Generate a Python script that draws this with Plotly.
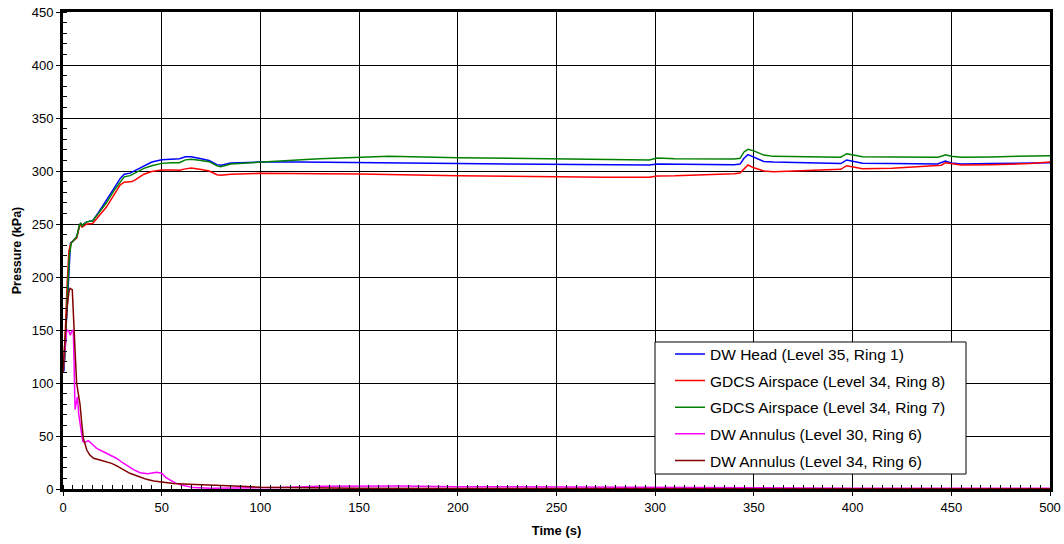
import plotly.graph_objects as go

# ---------------- data ----------------
t_blue = [0, 0.5, 1.5, 2.7, 3.8, 5, 7, 8.3, 9, 9.7, 10.5, 12, 15, 18, 22, 26, 29, 31, 34, 37, 41, 45, 50, 55, 59, 62, 65, 70, 74, 78, 80, 85, 90, 100, 120, 150, 175, 200, 225, 250, 275, 297, 301, 310, 340, 343, 345, 347, 350, 355, 360, 380, 394, 397, 400, 405, 420, 443, 445, 447, 450, 455, 470, 490, 500]
p_blue = [110, 112, 150, 200, 232, 234, 238, 248, 251, 248, 250, 252, 253, 261, 272, 284, 293, 297, 298, 301, 305, 308.5, 310.5, 311, 311.5, 313.5, 313.5, 311.5, 310, 306, 305.5, 307.5, 308, 308.5, 308.5, 308.2, 307.5, 307, 306.5, 306, 305.8, 305.7, 306.6, 306.3, 306, 306.5, 312, 315.4, 313, 309, 308.5, 307.5, 307, 310.4, 309.5, 307.3, 307, 306.6, 308, 309.4, 307.5, 306.6, 307, 307.5, 307.8]

t_red = [0, 1, 2, 3, 4, 5, 7, 8.3, 9, 9.7, 10.5, 12, 15, 18, 22, 26, 29, 31, 35, 37, 41, 45, 50, 55, 59, 62, 65, 70, 74, 78, 80, 85, 90, 100, 130, 150, 200, 250, 275, 297, 301, 310, 320, 340, 343, 345, 347, 350, 355, 360, 380, 394, 397, 400, 405, 420, 443, 445, 447, 450, 455, 470, 490, 500]
p_red = [110, 140, 190, 225, 232, 234, 237, 248, 249, 247, 248, 250, 250.5, 257, 266, 278, 287, 289.5, 290, 292, 297, 299.5, 301, 301, 300.8, 302, 302.8, 301.5, 300, 296.5, 296, 297, 297.5, 297.8, 297.5, 297.2, 295.6, 294.3, 294, 294, 295.3, 295.5, 296, 297.5, 298, 302, 305.7, 303, 300, 299.4, 300.5, 301.6, 305, 304, 302.2, 302.5, 304.7, 305.5, 307.8, 307, 305.7, 306, 307, 308.5, 308.5]

t_green = [0, 1, 2, 3.2, 4.2, 5, 7, 8.3, 9, 9.7, 10.5, 12, 15, 18, 22, 26, 29, 31, 34, 37, 41, 45, 50, 55, 59, 62, 65, 70, 74, 78, 80, 85, 90, 100, 110, 130, 150, 165, 200, 250, 297, 301, 310, 340, 343, 345, 347, 350, 355, 360, 380, 394, 397, 400, 405, 420, 443, 445, 447, 450, 455, 470, 490, 500]
p_green = [110, 125, 175, 220, 232, 234, 238, 249, 251, 248, 250, 252, 253, 260, 270, 282, 290, 294.5, 295.6, 298.5, 302.5, 305, 307.2, 307.8, 307.8, 310.5, 311, 310, 308.8, 305, 304.1, 306.5, 307.2, 308.5, 309.5, 311.5, 313.2, 313.8, 312.6, 311.3, 310.4, 312.3, 311.5, 311.3, 312, 318, 320.5, 319, 315, 313.8, 313.3, 313, 316.3, 315.5, 313.5, 313.3, 313, 314, 315.2, 314, 313, 313.3, 314, 314.5]

t_mag = [0, 0.7, 1.9, 3, 3.7, 4.5, 5.2, 5.6, 6.1, 6.6, 7.3, 8, 9, 10, 11, 12.8, 15, 17, 22, 27, 30, 32, 36, 39, 43, 47.4, 50, 52, 54, 57, 60, 66, 75, 90, 110, 130, 150, 170, 200, 250, 300, 400, 500]
p_mag = [110, 125, 150, 149, 145, 149, 150, 120, 75, 80, 87, 70, 55, 45, 44, 45.6, 42, 38.4, 33.7, 29, 25, 22.6, 18, 15.4, 14.5, 15.7, 14.8, 11, 8.5, 5.5, 3.8, 1.3, 0.7, 0.8, 1.5, 2.5, 2.8, 2.8, 2.2, 1.8, 1.3, 0.8, 0.6]

t_brown = [0, 1, 2, 3, 3.5, 4.7, 5.4, 6.1, 6.9, 8.6, 9.5, 10.3, 11.1, 12, 13.6, 15.5, 18.7, 21.5, 24.6, 27, 29.6, 33.9, 38, 42.3, 46, 50.3, 56, 64, 72, 81, 90, 100, 120, 150, 200, 300, 400, 500]
p_brown = [110, 140, 170, 186, 189.3, 188, 165, 131, 100, 80, 62, 48, 43, 37, 32, 29, 27.4, 26, 24.2, 22, 19.5, 14.8, 12, 9.1, 7.5, 6.3, 5.2, 4.4, 4, 3.5, 2.5, 1.6, 1.0, 0.6, 0.4, 0.3, 0.2, 0.2]

names = ["DW Head (Level 35, Ring 1)", "GDCS Airspace (Level 34, Ring 8)",
         "GDCS Airspace (Level 34, Ring 7)", "DW Annulus (Level 30, Ring 6)",
         "DW Annulus (Level 34, Ring 6)"]
colors = ["#0000FF", "#FF0000", "#008000", "#FF00FF", "#800000"]
series = [(t_blue, p_blue), (t_red, p_red), (t_green, p_green), (t_mag, p_mag), (t_brown, p_brown)]

x_ticks = [0, 50, 100, 150, 200, 250, 300, 350, 400, 450, 500]
y_ticks = [0, 50, 100, 150, 200, 250, 300, 350, 400, 450]

# ---------------- figure ----------------
fig = go.Figure()
for i, ((tx, py), nm, c) in enumerate(zip(series, names, colors)):
    fig.add_trace(go.Scatter(x=tx, y=py, mode="lines", name=nm,
                             line=dict(color=c, width=1.5),
                             legendgroup="g%d" % i))

FONT = "Liberation Sans, Arial, sans-serif"

axis_common = dict(showline=True, linecolor="black", linewidth=3, mirror=True,
                   showgrid=True, gridcolor="black", gridwidth=1, automargin=False,
                   zeroline=False, ticks="outside", ticklen=4, tickwidth=1,
                   tickcolor="black", tickfont=dict(family=FONT, size=13, color="black"))

fig.update_layout(
    width=1064, height=544,
    margin=dict(l=63, r=14, t=12, b=55),
    paper_bgcolor="white", plot_bgcolor="white",
    font=dict(family=FONT, color="black"),
    xaxis=dict(range=[0, 500], tickvals=x_ticks,
               title=dict(text="<b>Time (s)</b>", font=dict(family=FONT, size=13), standoff=13),
               minor=dict(dtick=5, tick0=0, ticks="inside", ticklen=4, tickcolor="black", showgrid=False),
               **axis_common),
    yaxis=dict(range=[0, 450], tickvals=y_ticks,
               title=dict(text="<b>Pressure (kPa)</b>", font=dict(family=FONT, size=12.5), standoff=8),
               minor=dict(dtick=10, tick0=0, ticks="inside", ticklen=4, tickcolor="black", showgrid=False),
               **axis_common),
    showlegend=True,
    legend=dict(x=0.615, y=0.318, xanchor="left", yanchor="top",
                bgcolor="rgba(0,0,0,0)", borderwidth=0,
                font=dict(family=FONT, size=15.5, color="black"),
                tracegroupgap=3.5, traceorder="grouped"),
    shapes=[dict(type="rect", xref="paper", yref="paper",
                 x0=0.5998, x1=0.9149, y0=0.0314, y1=0.3082,
                 line=dict(color="black", width=1), fillcolor="white", layer="above")],
)

fig.write_html("out.html",
               config={"displayModeBar": False},
               post_script="document.body.style.margin='0px';"
                           "document.documentElement.style.overflow='hidden';"
                           "document.body.style.overflow='hidden';")
